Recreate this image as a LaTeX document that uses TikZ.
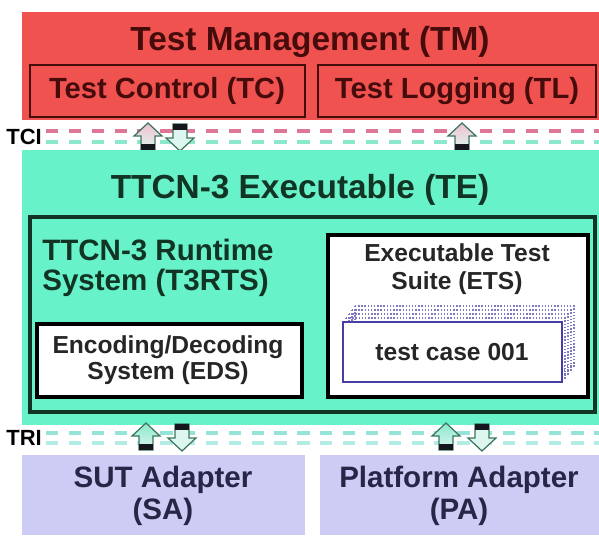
\documentclass[tikz,border=0pt]{standalone}
\usepackage{fontspec}
\setmainfont{Liberation Sans}
\definecolor{tmred}{RGB}{240,82,80}
\definecolor{tmdark}{RGB}{70,12,12}
\definecolor{teteal}{RGB}{104,242,202}
\definecolor{tedark}{RGB}{18,52,36}
\definecolor{salav}{RGB}{204,204,245}
\definecolor{sadark}{RGB}{38,38,70}
\definecolor{tcpink}{RGB}{222,118,150}
\definecolor{tcgreen}{RGB}{140,232,205}
\definecolor{trcyan}{RGB}{150,228,215}
\definecolor{trpale}{RGB}{178,236,228}
\definecolor{casepurple}{RGB}{70,62,165}
\definecolor{arrline}{RGB}{60,118,92}
\definecolor{arrpale}{RGB}{222,246,240}
\definecolor{arrbar}{RGB}{22,22,30}

\begin{document}
\begin{tikzpicture}[x=0.02cm,y=-0.02cm,
    title/.style={font=\bfseries\fontsize{19pt}{22pt}\selectfont},
    mid/.style={font=\bfseries\fontsize{16.6pt}{17pt}\selectfont},
    small/.style={font=\bfseries\fontsize{14pt}{15pt}\selectfont},
    iface/.style={font=\bfseries\fontsize{12.5pt}{14pt}\selectfont, anchor=west, inner sep=0pt},
    ifline/.style={line width=2.2pt, dash pattern=on 7pt off 6pt},
    upblk/.pic={
        \path[draw=arrline, line width=0.7pt, top color=#1, bottom color=arrpale]
            (0,-14) -- (14,-1) -- (7,-1) -- (7,13) -- (-7,13) -- (-7,-1) -- (-14,-1) -- cycle;
        \fill[arrbar] (-7,7) rectangle (7,13);
    },
    downblk/.pic={
        \path[draw=arrline, line width=0.7pt, top color=#1, bottom color=arrpale]
            (-7,-13) -- (7,-13) -- (7,1) -- (14,1) -- (0,14) -- (-14,1) -- (-7,1) -- cycle;
        \fill[arrbar] (-7,-13) rectangle (7,-7);
    }]
    \useasboundingbox[fill=white] (0,0) rectangle (599,535);

    % Test Management
    \fill[tmred] (22,12) rectangle (599,120);
    \node[title, text=tmdark] (tm) at (310,42) {Test Management (TM)};
    \draw[tmdark, line width=1.7pt] (30,65) rectangle (305,117);
    \node[mid, text=tmdark] (tc) at (167,91) {Test Control (TC)};
    \draw[tmdark, line width=1.7pt] (318,65) rectangle (596,117);
    \node[mid, text=tmdark] (tl) at (457,91) {Test Logging (TL)};

    % TCI
    \node[iface] (tci) at (6,137) {TCI};
    \coordinate (tcia) at (599,131);
    \coordinate (tcib) at (599,142);
    \draw[ifline, tcpink] (tci.east |- tcia) ++(4,0) -- (tcia);
    \draw[ifline, tcgreen] (tci.east |- tcib) ++(4,0) -- (tcib);
    \pic at (148,137) {upblk={tcpink!45}};
    \pic at (180,137) {downblk={arrpale}};
    \pic at (462,137) {upblk={tcpink!45}};

    % TTCN-3 Executable
    \fill[teteal] (22,150) rectangle (599,425);
    \node[title, text=tedark] (te) at (300,190) {TTCN-3 Executable (TE)};
    \draw[tedark, line width=1.8pt] (30,217) rectangle (595,412);
    \node[mid, text=tedark, align=left, anchor=west, inner sep=0pt,
          font=\bfseries\fontsize{16.8pt}{17pt}\selectfont] (t3rts) at (42,268)
        {TTCN-3 Runtime\\System (T3RTS)};
    \draw[black, fill=white, line width=1.8pt] (37,324) rectangle (302,397);
    \node[small, align=center, text=black!85] (eds) at (168,360)
        {Encoding/Decoding\\System (EDS)};
    \draw[black, fill=white, line width=1.8pt] (328,235) rectangle (588,397);
    \node[small, align=center, text=black!85, font=\bfseries\fontsize{14pt}{16pt}\selectfont]
        (ets) at (457,269) {Executable Test\\Suite (ETS)};
    \foreach \d in {4,3,2,1}
        \draw[casepurple!70, densely dotted, line width=0.8pt]
            (343+3*\d,322-4*\d) rectangle (562+3*\d,382-4*\d);
    \draw[casepurple, fill=white, line width=1.2pt] (343,322) rectangle (562,382);
    \node[small, text=black!85] (tcase) at (452,352) {test case 001};

    % TRI
    \node[iface] (tri) at (6,438) {TRI};
    \coordinate (tria) at (599,433);
    \coordinate (trib) at (599,443);
    \draw[ifline, trcyan] (tri.east |- tria) ++(4,0) -- (tria);
    \draw[ifline, trpale] (tri.east |- trib) ++(4,0) -- (trib);
    \pic at (146,437) {upblk={tcgreen}};
    \pic at (182,437) {downblk={arrpale}};
    \pic at (446,437) {upblk={tcgreen}};
    \pic at (482,437) {downblk={arrpale}};

    % adapters
    \fill[salav] (22,455) rectangle (305,535);
    \node[mid, align=center, text=sadark, font=\bfseries\fontsize{16.8pt}{18.2pt}\selectfont]
        (sa) at (163,496) {SUT Adapter\\(SA)};
    \fill[salav] (320,455) rectangle (599,535);
    \node[mid, align=center, text=sadark, font=\bfseries\fontsize{16.8pt}{18.2pt}\selectfont]
        (pa) at (459,496) {Platform Adapter\\(PA)};
\end{tikzpicture}
\end{document}
